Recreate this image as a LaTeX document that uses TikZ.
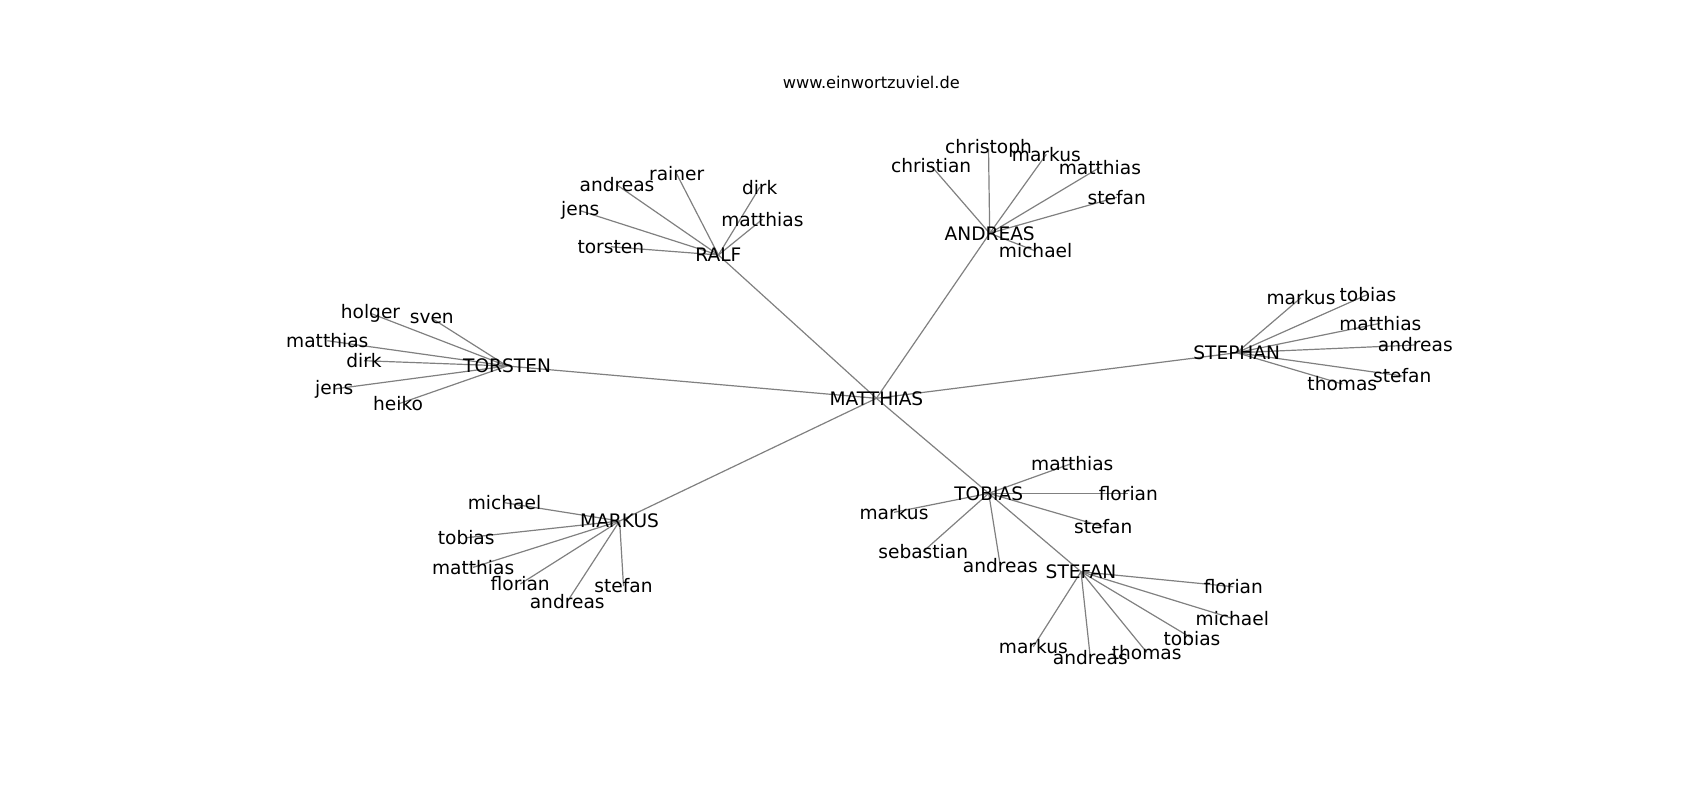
\documentclass[tikz,border=0pt]{standalone}
\usepackage{fontspec}
\setmainfont{DejaVu Sans}
\usetikzlibrary{backgrounds}

\begin{document}
\begin{tikzpicture}[
  x=0.5pt, y=-0.5pt,
  person/.style={inner sep=0pt, font=\fontsize{9.3}{11}\selectfont},
  edge/.style={draw=black!50, line width=0.6pt},
]

\useasboundingbox (0,0) rectangle (1700,800);

\node[inner sep=0pt, font=\fontsize{8.1}{10}\selectfont] (title) at (871.3,82.7) {www.einwortzuviel.de};

% hubs
\node[person] (matthias) at (876.4,398.3) {MATTHIAS};
\node[person] (ralf) at (718.4,255) {RALF};
\node[person] (andreas) at (989.7,233.3) {ANDREAS};
\node[person] (stephan) at (1236.7,352.7) {STEPHAN};
\node[person] (torsten) at (507.1,366) {TORSTEN};
\node[person] (markus) at (619.6,521) {MARKUS};
\node[person] (tobias) at (988.7,493.3) {TOBIAS};
\node[person] (stefan) at (1081,571.7) {STEFAN};

\begin{scope}[on background layer]
\foreach \hub in {ralf,andreas,stephan,torsten,markus,tobias}
  \draw[edge] (matthias.center) -- (\hub.center);
\draw[edge] (tobias.center) -- (stefan.center);
\end{scope}

% leaves
\foreach[count=\k] \who/\px/\py in {rainer/676.7/174, andreas/617/185, dirk/759.7/187.3,
    jens/580.2/210.7, matthias/762.4/219.3, torsten/610.8/246.7} {
  \node[person] (ralf-\k) at (\px,\py) {\who};
  \begin{scope}[on background layer]
    \draw[edge] (ralf.center) -- (ralf-\k.center);
  \end{scope}
}

\foreach[count=\k] \who/\px/\py in {holger/370.5/313.3, sven/431.8/318.3, matthias/327.3/340.7,
    dirk/364/360.7, jens/334.2/389, heiko/398.1/404} {
  \node[person] (torsten-\k) at (\px,\py) {\who};
  \begin{scope}[on background layer]
    \draw[edge] (torsten.center) -- (torsten-\k.center);
  \end{scope}
}

\foreach[count=\k] \who/\px/\py in {christoph/988.5/148.3, christian/931.1/165.7, markus/1046.3/154.3,
    matthias/1099.9/167.3, stefan/1116.7/197.3, michael/1035.6/251} {
  \node[person] (andreas-\k) at (\px,\py) {\who};
  \begin{scope}[on background layer]
    \draw[edge] (andreas.center) -- (andreas-\k.center);
  \end{scope}
}

\foreach[count=\k] \who/\px/\py in {markus/1301/297.7, tobias/1368/294.3, matthias/1380.3/323.3,
    andreas/1415.3/345, stefan/1402.3/376, thomas/1342.3/384} {
  \node[person] (stephan-\k) at (\px,\py) {\who};
  \begin{scope}[on background layer]
    \draw[edge] (stephan.center) -- (stephan-\k.center);
  \end{scope}
}

\foreach[count=\k] \who/\px/\py in {michael/504.5/502.7, tobias/466.2/537.7, matthias/473.1/567.3,
    florian/520.2/584, andreas/567.2/601.7, stefan/623.5/586} {
  \node[person] (markus-\k) at (\px,\py) {\who};
  \begin{scope}[on background layer]
    \draw[edge] (markus.center) -- (markus-\k.center);
  \end{scope}
}

\foreach[count=\k] \who/\px/\py in {matthias/1072.3/463.3, florian/1128.3/493.3, stefan/1103.3/526.7,
    markus/894/512.3, sebastian/923.2/551.5, andreas/1000.3/565.7} {
  \node[person] (tobias-\k) at (\px,\py) {\who};
  \begin{scope}[on background layer]
    \draw[edge] (tobias.center) -- (tobias-\k.center);
  \end{scope}
}

\foreach[count=\k] \who/\px/\py in {florian/1233.3/586.7, michael/1232.3/618.3, tobias/1192/638.3,
    markus/1033.3/646.7, andreas/1090.3/657.7, thomas/1146.7/652.3} {
  \node[person] (stefan-\k) at (\px,\py) {\who};
  \begin{scope}[on background layer]
    \draw[edge] (stefan.center) -- (stefan-\k.center);
  \end{scope}
}
\end{tikzpicture}
\end{document}
